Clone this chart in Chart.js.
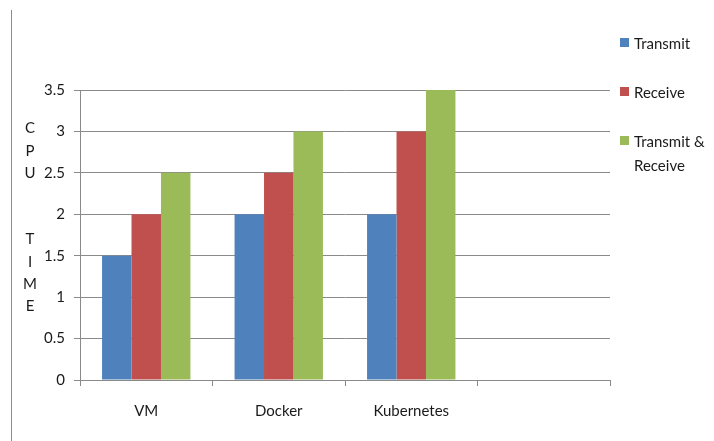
<!DOCTYPE html>
<html>
<head>
<meta charset="utf-8">
<script src="https://cdn.jsdelivr.net/npm/chart.js@4.4.1/dist/chart.umd.min.js"></script>
<style>
  html, body { margin: 0; padding: 0; background: #fff; }
  #wrap { position: relative; width: 714px; height: 441px; font-family: Lato, "Open Sans", sans-serif; }
  #frame { position: absolute; left: 11px; top: 10px; width: 1px; height: 431px; background: #8c8c8c; }
  #legend { position: absolute; left: 620px; top: 31px; font-size: 15px; color: #1a1a1a; }
  #legend .item { position: relative; padding-left: 14px; line-height: 24px; margin-bottom: 25px; }
  #legend .sw { position: absolute; left: 0; top: 7px; width: 9px; height: 9px; }
</style>
</head>
<body>
<div id="wrap">
  <canvas id="chart" width="714" height="441"></canvas>
  <div id="frame"></div>
  <div id="legend"></div>
</div>
<script>
(() => {
  "use strict";

  // ---------- dados ----------
  const categorias = ["VM", "Docker", "Kubernetes", ""];
  const transmit = [1.5, 2, 2, null];
  const receive = [2, 2.5, 3, null];
  const transmitReceive = [2.5, 3, 3.5, null];
  const serieNomes = ["Transmit", "Receive", "Transmit & Receive"];
  const cores = ["#4F81BD", "#C0504D", "#9BBB59"];
  const tituloY = ["C", "P", "U", "", "", "T", "I", "M", "E"];

  const FONT = "Lato, 'Open Sans', sans-serif";
  const GRID = "#8a8a8a";

  // título do eixo Y, uma letra por linha
  const tituloPlugin = {
    id: "tituloY",
    afterDraw(chart) {
      const ctx = chart.ctx;
      ctx.save();
      ctx.font = `15px ${FONT}`;
      ctx.fillStyle = "#1a1a1a";
      ctx.textAlign = "center";
      ctx.textBaseline = "middle";
      tituloY.forEach((l, i) => { if (l) ctx.fillText(l, 30, 128.5 + i * 22.2); });
      ctx.restore();
    },
  };

  const series = [transmit, receive, transmitReceive];

  new Chart(document.getElementById("chart"), {
    type: "bar",
    data: {
      labels: categorias,
      datasets: series.map((d, i) => ({
        label: serieNomes[i],
        data: d,
        backgroundColor: cores[i],
        borderWidth: 0,
        categoryPercentage: 0.667,
        barPercentage: 1,
      })),
    },
    options: {
      responsive: false,
      animation: false,
      devicePixelRatio: 1,
      layout: { padding: { left: 12, right: 104, top: 90, bottom: 0 } },
      plugins: { legend: { display: false }, tooltip: { enabled: false } },
      scales: {
        x: {
          grid: { drawOnChartArea: false, color: GRID, tickLength: 6, offset: true },
          border: { color: GRID, width: 1 },
          ticks: { color: "#1a1a1a", font: { family: FONT, size: 15 }, padding: 16 },
          afterFit: (s) => { s.height = 61; },
        },
        y: {
          min: 0,
          max: 3.5,
          ticks: {
            stepSize: 0.5,
            color: "#1a1a1a",
            font: { family: FONT, size: 15 },
            padding: 9,
            callback: (v) => String(v),
          },
          grid: { color: GRID, tickLength: 6 },
          border: { color: GRID, width: 1 },
          afterFit: (s) => { s.width = 68; },
        },
      },
    },
    plugins: [tituloPlugin],
  });

  // ---------- legenda ----------
  const leg = document.getElementById("legend");
  serieNomes.forEach((n, i) => {
    const it = document.createElement("div");
    it.className = "item";
    it.innerHTML = `<span class="sw" style="background:${cores[i]}"></span>${n.replace("& ", "&amp;<br>")}`;
    leg.appendChild(it);
  });
})();
</script>
</body>
</html>
